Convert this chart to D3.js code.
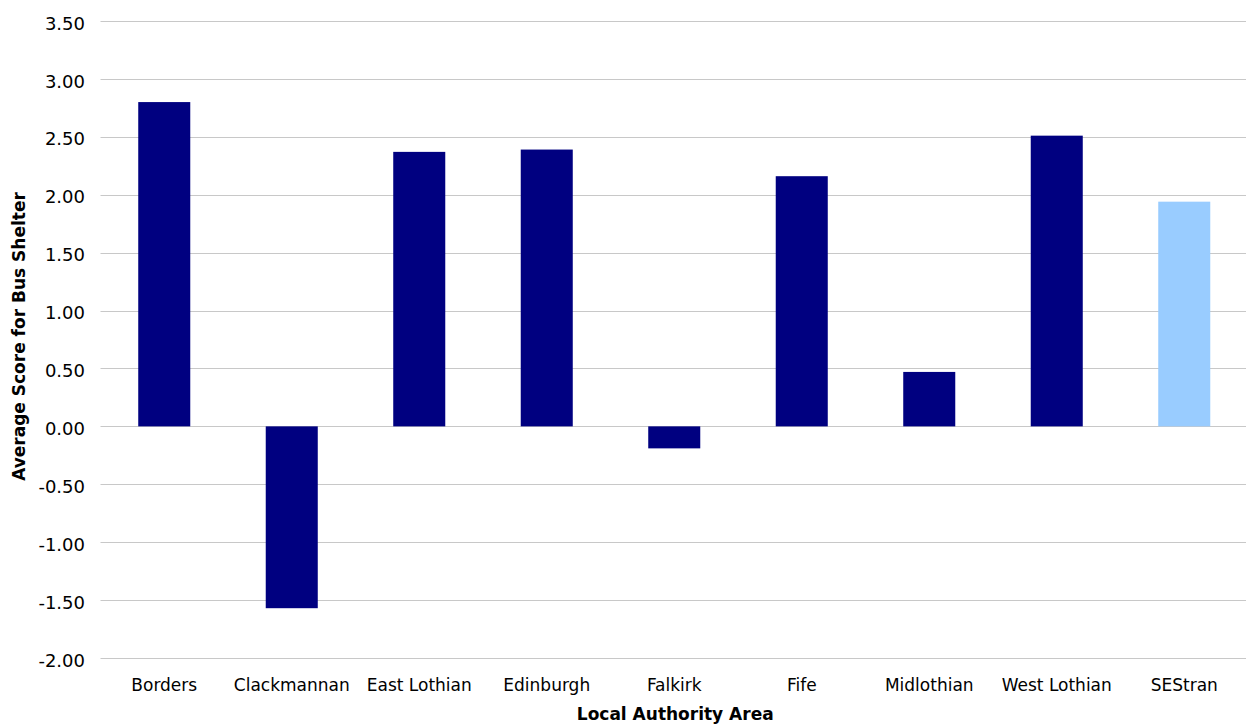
<!DOCTYPE html>
<html>
<head>
<meta charset="utf-8">
<script src="https://cdn.jsdelivr.net/npm/d3@7"></script>
<style>
  html, body { margin: 0; padding: 0; background: #fff; }
  svg { display: block; }
  text { font-family: "DejaVu Sans", Verdana, sans-serif; fill: #000; }
</style>
</head>
<body>
<svg id="chart" width="1246" height="725"></svg>
<script>
const categories = ["Borders", "Clackmannan", "East Lothian", "Edinburgh", "Falkirk", "Fife", "Midlothian", "West Lothian", "SEStran"];
const values = [2.80, -1.57, 2.37, 2.39, -0.19, 2.16, 0.47, 2.51, 1.94];
const barColors = ["#000080", "#000080", "#000080", "#000080", "#000080", "#000080", "#000080", "#000080", "#99CCFF"];
const yTicks = [-2.0, -1.5, -1.0, -0.5, 0, 0.5, 1.0, 1.5, 2.0, 2.5, 3.0, 3.5];
const xTitle = "Local Authority Area";
const yTitle = "Average Score for Bus Shelter";

(function () {
const svg = d3.select("#chart");
const mLeft = 100.5, mRight = 1248, mTop = 21, mBottom = 658;

const x = d3.scaleBand().domain(categories).range([mLeft, mRight]).paddingInner(0.592).paddingOuter(0.296);
const y = d3.scaleLinear().domain([-2, 3.5]).range([mBottom, mTop]);

// gridlines
svg.append("g").selectAll("line").data(yTicks).join("line")
  .attr("x1", mLeft).attr("x2", 1246)
  .attr("y1", d => Math.round(y(d)) + 0.5).attr("y2", d => Math.round(y(d)) + 0.5)
  .attr("stroke", "#c8c8c8").attr("stroke-width", 1);

// y axis labels
const fmt = d => d.toFixed(2);
const yAxis = d3.axisLeft(y).tickValues(yTicks).tickFormat(fmt).tickSize(0).tickPadding(0);
const gy = svg.append("g").attr("transform", "translate(85,0)").call(yAxis);
gy.select(".domain").remove();
gy.selectAll("text").attr("font-size", 18).attr("font-family", "DejaVu Sans, Verdana, sans-serif").attr("fill", "#000").attr("dy", "0.45em");

// bars
svg.append("g").selectAll("rect").data(categories).join("rect")
  .attr("x", d => x(d))
  .attr("width", x.bandwidth())
  .attr("y", (d, i) => Math.min(y(values[i]), y(0)))
  .attr("height", (d, i) => Math.abs(y(values[i]) - y(0)))
  .attr("fill", (d, i) => barColors[i]);

// x axis labels
const xAxis = d3.axisBottom(x).tickSize(0).tickPadding(0);
const gx = svg.append("g").attr("transform", "translate(0,691)").call(xAxis);
gx.select(".domain").remove();
gx.selectAll("text").attr("font-size", 17).attr("font-family", "DejaVu Sans, Verdana, sans-serif").attr("fill", "#000").attr("dy", 0);

// axis titles
svg.append("text").attr("x", (mLeft + mRight) / 2 + 1).attr("y", 720)
  .attr("text-anchor", "middle").attr("font-size", 17).attr("font-weight", "bold").text(xTitle);
svg.append("text").attr("transform", `translate(25,${(mTop + mBottom) / 2 - 3}) rotate(-90)`)
  .attr("text-anchor", "middle").attr("font-size", 17).attr("font-weight", "bold").text(yTitle);
})();
</script>
</body>
</html>
